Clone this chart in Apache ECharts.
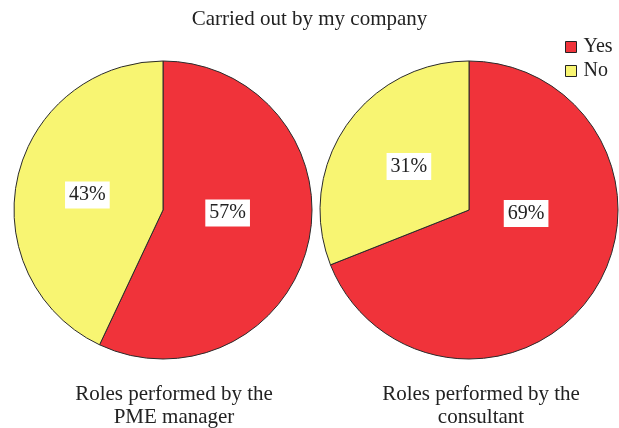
<!DOCTYPE html>
<html>
<head>
<meta charset="utf-8">
<script src="https://cdn.jsdelivr.net/npm/echarts@6/dist/echarts.min.js"></script>
<style>
html, body { margin: 0; padding: 0; background: #fff; }
#main { width: 619px; height: 428px; }
</style>
</head>
<body>
<div id="main"></div>
<script>
var myChart = echarts.init(document.getElementById('main'));

var categories = ['Yes', 'No'];
var managerValues = [57, 43];
var consultantValues = [69, 31];
var pieTitles = ['Roles performed by the\nPME manager', 'Roles performed by the\nconsultant'];

// nudge labels toward where the original tool placed them
var managerOffsets = [[-11, -14], [0, 2]];
var consultantOffsets = [[-7, -40], [4, 0]];

var colors = ['#F0333A', '#F8F572'];
var font = 'Liberation Serif';

function buildData(values, offsets) {
    return values.map(function (v, i) {
        return {
            name: categories[i],
            value: v,
            label: { offset: offsets[i] }
        };
    });
}

function pieSeries(name, values, offsets, cx) {
    return {
        name: name,
        type: 'pie',
        center: [cx, 210],
        radius: 149,
        startAngle: 90,
        clockwise: true,
        silent: true,
        itemStyle: { borderColor: '#2a2a2a', borderWidth: 1 },
        label: {
            show: true,
            position: 'inside',
            formatter: '{c}%',
            fontFamily: font,
            fontSize: 20,
            color: '#222',
            backgroundColor: '#fff',
            padding: [4, 4, 3, 4]
        },
        labelLine: { show: false },
        emphasis: { disabled: true },
        data: buildData(values, offsets)
    };
}

var option = {
    animation: false,
    color: colors,
    title: [
        {
            text: 'Carried out by my company',
            left: 'center',
            top: 4,
            textStyle: { fontFamily: font, fontSize: 21, fontWeight: 'normal', color: '#222' }
        },
        {
            text: pieTitles[0],
            left: 169,
            top: 378,
            textAlign: 'center',
            textStyle: { fontFamily: font, fontSize: 21, fontWeight: 'normal', color: '#222', lineHeight: 23 }
        },
        {
            text: pieTitles[1],
            left: 476,
            top: 378,
            textAlign: 'center',
            textStyle: { fontFamily: font, fontSize: 21, fontWeight: 'normal', color: '#222', lineHeight: 23 }
        }
    ],
    legend: {
        data: categories,
        orient: 'vertical',
        left: 560,
        top: 32,
        icon: 'rect',
        itemWidth: 11,
        itemHeight: 11,
        itemGap: 4,
        selectedMode: false,
        itemStyle: { borderColor: '#222', borderWidth: 1 },
        textStyle: { fontFamily: font, fontSize: 20, color: '#222', padding: [0, 0, 0, 2] }
    },
    series: [
        pieSeries('PME manager', managerValues, managerOffsets, 163),
        pieSeries('Consultant', consultantValues, consultantOffsets, 469)
    ]
};

myChart.setOption(option);
</script>
</body>
</html>
